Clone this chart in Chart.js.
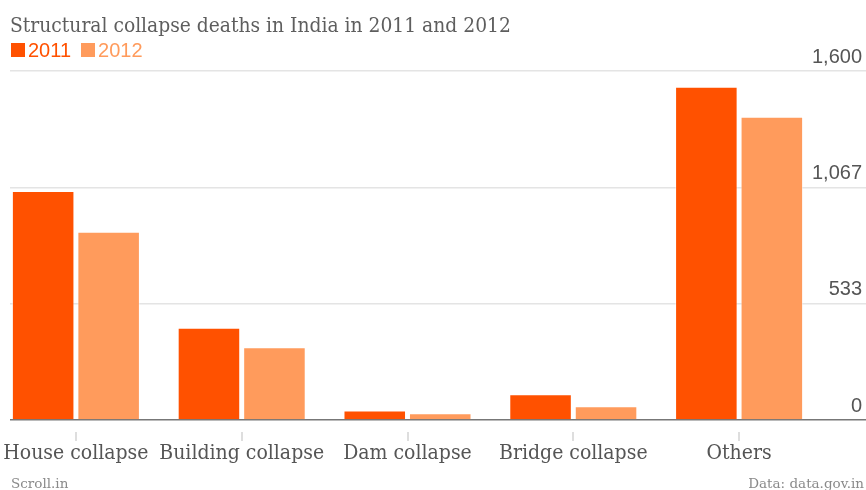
<!DOCTYPE html>
<html>
<head>
<meta charset="utf-8">
<script src="https://cdn.jsdelivr.net/npm/chart.js@4.4.1/dist/chart.umd.min.js"></script>
<style>
  html, body { margin: 0; padding: 0; background: #fff; }
  body { width: 866px; height: 490px; position: relative; overflow: hidden; }
  #title {
    position: absolute; left: 10px; top: 15px; white-space: nowrap;
    font: 20.8px/20px "DejaVu Serif Condensed", "DejaVu Serif", serif; color: #5e5e5e;
  }
  #legend {
    position: absolute; left: 11px; top: 40px; display: flex;
    font: 20px/20px "Liberation Sans", Arial, sans-serif;
  }
  .item { display: flex; align-items: center; margin-right: 10px; }
  .box { width: 14px; height: 14px; margin-right: 3px; }
  .foot {
    position: absolute; top: 476px; white-space: nowrap;
    font: 13.5px/14px "DejaVu Serif", serif; color: #8a8a8a;
  }
  #wrap { position: absolute; left: -7px; top: 0; width: 873px; height: 490px; }
</style>
</head>
<body>
<div id="wrap"><canvas id="chart"></canvas></div>
<div id="title">Structural collapse deaths in India in 2011 and 2012</div>
<div id="legend"></div>
<div class="foot" style="left:11px">Scroll.in</div>
<div class="foot" style="right:2px">Data: data.gov.in</div>

<script>
// === Data ===
const categories = ["House collapse", "Building collapse", "Dam collapse", "Bridge collapse", "Others"];
const deaths2011 = [1050, 423, 43, 118, 1528];
const deaths2012 = [863, 333, 31, 63, 1390];
const seriesNames = ["2011", "2012"];
const seriesColors = ["#ff5100", "#ff9b5c"];
const yTicks = [0, 533.33, 1066.67, 1600];

const serif = "'DejaVu Serif Condensed', 'DejaVu Serif', serif";

// === Legend (html) ===
const legend = document.getElementById("legend");
seriesNames.forEach((name, i) => {
  const item = document.createElement("div");
  item.className = "item";
  item.innerHTML = `<span class="box" style="background:${seriesColors[i]}"></span><span style="color:${seriesColors[i]}">${name}</span>`;
  legend.appendChild(item);
});

// hide gridline stubs left of where the original starts them
const leftMask = {
  id: "leftMask",
  beforeDatasetsDraw(chart) {
    const { ctx, chartArea } = chart;
    ctx.save();
    ctx.fillStyle = "#fff";
    ctx.fillRect(0, chartArea.top - 3, 17, chartArea.bottom - chartArea.top + 6);
    ctx.restore();
  },
};

new Chart(document.getElementById("chart").getContext("2d"), {
  type: "bar",
  data: {
    labels: categories,
    datasets: [
      {
        label: seriesNames[0],
        data: deaths2011,
        backgroundColor: seriesColors[0],
        borderColor: "rgba(255,255,255,0.45)",
        borderWidth: 1,
        categoryPercentage: 0.79,
        barPercentage: 0.955,
      },
      {
        label: seriesNames[1],
        data: deaths2012,
        backgroundColor: seriesColors[1],
        borderColor: "rgba(255,255,255,0.45)",
        borderWidth: 1,
        categoryPercentage: 0.79,
        barPercentage: 0.955,
      },
    ],
  },
  options: {
    responsive: true,
    maintainAspectRatio: false,
    animation: false,
    layout: { padding: { top: 71, right: 4, bottom: 25, left: 0 } },
    plugins: { legend: { display: false }, tooltip: { enabled: false } },
    scales: {
      x: {
        border: { display: false },
        grid: {
          offset: false,
          drawOnChartArea: false,
          tickLength: 21,
          color: "#dedede",
          lineWidth: 2,
          tickBorderDash: [0, 12, 9, 100],
        },
        ticks: {
          padding: 0,
          autoSkip: false,
          maxRotation: 0,
          minRotation: 0,
          color: "#555",
          font: { family: serif, size: 21 },
        },
        afterFit: (s) => { s.height = 45; },
      },
      y: {
        position: "right",
        min: 0,
        max: 1600,
        border: { display: false },
        afterBuildTicks: (s) => { s.ticks = yTicks.map((v) => ({ value: v })); },
        afterFit: (s) => { s.width = 40; },
        grid: {
          tickLength: 44,
          lineWidth: 1.5,
          color: (c) => (c.tick && c.tick.value === 0 ? "#777" : "#e4e4e4"),
        },
        ticks: {
          mirror: true,
          crossAlign: "near",
          align: "end",
          padding: 40,
          labelOffset: -4,
          color: "#555",
          font: { family: "'Liberation Sans', Arial, sans-serif", size: 20 },
          callback: (v) => Math.round(v).toLocaleString("en-US"),
        },
      },
    },
  },
  plugins: [leftMask],
});
</script>
</body>
</html>
